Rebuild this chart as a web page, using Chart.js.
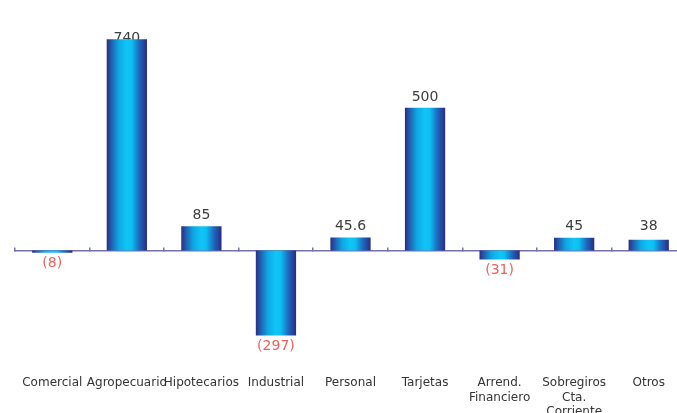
<!DOCTYPE html>
<html>
<head>
<meta charset="utf-8">
<script src="https://cdn.jsdelivr.net/npm/chart.js@4"></script>
<style>
  html, body { margin: 0; padding: 0; overflow: hidden; background: #fff; }
  #wrap { width: 686px; height: 433px; }
</style>
</head>
<body>
<div id="wrap"><canvas id="chart"></canvas></div>
<script>
// Chart data
const categories = ['Comercial', 'Agropecuario', 'Hipotecarios', 'Industrial', 'Personal', 'Tarjetas',
  ['Arrend.', 'Financiero'], ['Sobregiros', 'Cta.', 'Corriente'], 'Otros'];
const values = [-8, 740, 85, -297, 45.6, 500, -31, 45, 38];

const axisColor = '#7472a8';

/**
 * Horizontal navy -> cyan -> navy gradient for each bar
 */
function barGradient(context) {
    const chart = context.chart;
    const xScale = chart.scales.x;
    if (!chart.chartArea || !xScale) return '#0cb8ea';
    const cx = xScale.getPixelForValue(context.dataIndex);
    const half = xScale.width / categories.length * 0.54 / 2;
    const g = chart.ctx.createLinearGradient(cx - half, 0, cx + half, 0);
    g.addColorStop(0, '#2a2c84');
    g.addColorStop(0.12, '#2160b0');
    g.addColorStop(0.3, '#0ea8e4');
    g.addColorStop(0.5, '#10c6f6');
    g.addColorStop(0.62, '#0dbef2');
    g.addColorStop(0.8, '#1d6cc0');
    g.addColorStop(1, '#2a2a82');
    return g;
}

// Value labels: positive above the bar, negative in red below
const valueLabels = {
    id: 'valueLabels',
    beforeDatasetsDraw(chart) {
        const ctx = chart.ctx;
        const zero = chart.scales.y.getPixelForValue(0);
        const top = chart.chartArea.top;
        ctx.save();
        ctx.font = '14px "DejaVu Sans"';
        ctx.textAlign = 'center';
        chart.getDatasetMeta(0).data.forEach((bar, i) => {
            const v = values[i];
            if (v >= 0) {
                ctx.fillStyle = '#3c3c3c';
                ctx.textBaseline = 'alphabetic';
                const y = Math.max(Math.min(bar.y - 7, zero - 21), top + 20);
                ctx.fillText(String(v), bar.x, y);
            } else {
                ctx.fillStyle = '#f2615c';
                ctx.textBaseline = 'middle';
                ctx.fillText('(' + (-v) + ')', bar.x, bar.y + 11);
            }
        });
        ctx.restore();
    }
};

new Chart(document.getElementById('chart'), {
    type: 'bar',
    data: {
        labels: categories,
        datasets: [{
            data: values,
            backgroundColor: barGradient,
            borderWidth: 0,
            categoryPercentage: 0.9,
            barPercentage: 0.6
        }]
    },
    options: {
        responsive: true,
        maintainAspectRatio: false,
        animation: false,
        layout: { padding: { top: 22, left: 15, right: 0, bottom: 3 } },
        plugins: {
            legend: { display: false },
            tooltip: { enabled: false }
        },
        scales: {
            x: {
                type: 'category',
                position: { y: 0 },
                offset: true,
                grid: {
                    offset: true,
                    drawOnChartArea: false,
                    drawTicks: true,
                    tickLength: -4,
                    color: axisColor,
                    lineWidth: 1.5
                },
                border: { display: true, color: axisColor, width: 1.5 },
                ticks: { display: false }
            },
            x2: {
                type: 'category',
                position: 'bottom',
                offset: true,
                grid: { display: false, drawTicks: false },
                border: { display: false },
                ticks: {
                    padding: 11,
                    color: '#333',
                    autoSkip: false,
                    minRotation: 0,
                    maxRotation: 0,
                    font: { family: 'DejaVu Sans', size: 12 }
                }
            },
            y: {
                display: false,
                min: -400,
                max: 800
            }
        }
    },
    plugins: [valueLabels]
});
</script>
</body>
</html>
